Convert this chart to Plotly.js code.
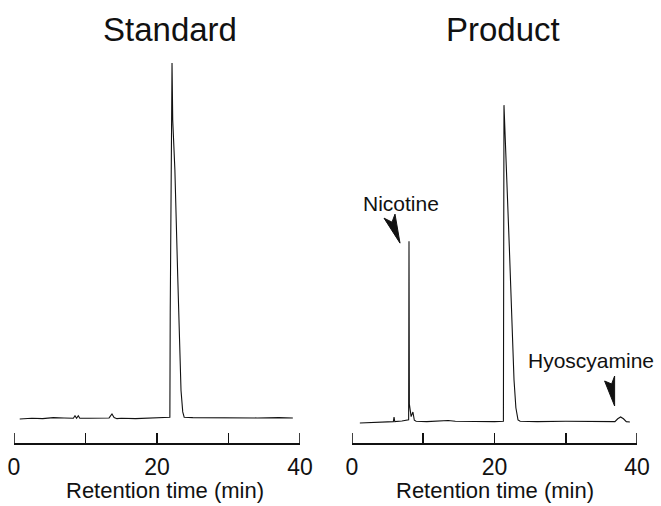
<!DOCTYPE html>
<html>
<head>
<meta charset="utf-8">
<script src="https://cdn.plot.ly/plotly-3.0.1.min.js"></script>
<style>html,body{margin:0;padding:0;background:#fff;}#chart{width:661px;height:506px;}</style>
</head>
<body>
<div id="chart"></div>
<script>
// ---- data (retention time in min, detector signal in arbitrary units) ----
const panelTitles = ["Standard", "Product"];
const axisTitle = "Retention time (min)";
const tickValues = [0, 10, 20, 30, 40];
const tickLabels = ["0", "", "20", "", "40"];

const standardTime = [0.8, 2.5, 4.0, 5.5, 7.0, 8.3, 8.53, 8.75, 8.99, 9.2, 10.5, 12.0, 13.3, 13.7, 14.0, 14.4, 15.0, 17.0, 19.0, 21.0, 21.8, 21.85, 21.96, 22.1, 22.2, 22.5, 22.9, 23.36, 23.6, 23.8, 25, 28, 31, 34, 37, 39.0];
const standardSignal = [0.0, 0.2, 0.1, 0.4, 0.3, 0.2, 0.9, 0.2, 0.9, 0.2, 0.2, 0.2, 0.3, 1.4, 0.4, 0.1, 0.2, 0.1, 0.2, 0.3, 0.5, 30, 70, 100, 84, 70, 40, 8, 2, 0.5, 0.4, 0.3, 0.4, 0.3, 0.4, 0.3];

const productTime = [1.1, 3.0, 4.5, 5.8, 5.9, 6.0, 7.0, 7.7, 7.95, 8.0, 8.05, 8.3, 8.55, 8.75, 9.0, 10.5, 12.5, 13.5, 14.5, 17, 20, 21.25, 21.3, 21.33, 22.08, 22.74, 23.0, 23.3, 23.6, 26, 30, 34, 36.9, 37.3, 37.7, 38.1, 38.5, 39.0];
const productSignal = [-0.3, -0.2, 0.0, 0.1, 1.4, 0.1, 0.3, 0.4, 0.6, 50.8, 5, 1.5, 2.8, 0.5, 0.2, 0.1, 0.2, 0.4, 0.2, 0.1, 0.1, 0.2, 45, 89, 49.2, 11.8, 4, 0.6, 0.2, 0.1, 0.2, 0.1, 0.1, 0.9, 1.4, 0.9, 0.1, 0.0];

const peakLabels = ["Nicotine", "Hyoscyamine"];
const peakTime = [8.0, 37.7];
const peakSignal = [50.8, 1.4];

// ---- layout helpers ----
const W = 661, H = 506;
const px = x => x / W;
const py = y => 1 - y / H;
const FONT = "Liberation Sans, Arial, Helvetica, sans-serif";
const INK = "#111";
const DOMAIN_TOP = 60, DOMAIN_BOTTOM = 443, TICK_LEN = 10;

const traceStyle = {mode: "lines", line: {color: INK, width: 1.1}, hoverinfo: "skip"};
const traces = [
  Object.assign({x: standardTime, y: standardSignal, xaxis: "x", yaxis: "y"}, traceStyle),
  Object.assign({x: productTime, y: productSignal, xaxis: "x2", yaxis: "y2"}, traceStyle)
];

const xBase = {
  range: [0, 40], showline: true, linecolor: INK, linewidth: 1.6,
  ticks: "inside", ticklen: TICK_LEN, tickwidth: 1.6, tickcolor: INK,
  tickvals: tickValues, ticktext: tickLabels, ticklabelstandoff: 3,
  tickfont: {family: FONT, size: 23, color: INK},
  showgrid: false, zeroline: false, fixedrange: true
};
const yDomain = [py(DOMAIN_BOTTOM), py(DOMAIN_TOP)];
const yBase = {domain: yDomain, visible: false, showgrid: false, zeroline: false, fixedrange: true};

// end ticks at the first and last tick values (Plotly hides inside ticks at the axis ends)
const endTickShapes = [];
[["x", "y"], ["x2", "y2"]].forEach(([xa, ya]) => {
  [tickValues[0], tickValues[tickValues.length - 1]].forEach(v => {
    endTickShapes.push({type: "line", xref: xa, yref: ya + " domain", x0: v, x1: v, y0: 0,
      y1: TICK_LEN / (DOMAIN_BOTTOM - DOMAIN_TOP), line: {color: INK, width: 1.6}});
  });
});

const layout = {
  width: W, height: H,
  margin: {l: 0, r: 0, t: 0, b: 0},
  paper_bgcolor: "#fff", plot_bgcolor: "rgba(0,0,0,0)",
  showlegend: false,
  xaxis: Object.assign({}, xBase, {domain: [px(14), px(300)], anchor: "y"}),
  yaxis: Object.assign({}, yBase, {range: [-6.74, 100.84], anchor: "x"}),
  xaxis2: Object.assign({}, xBase, {domain: [px(352), px(637)], anchor: "y2"}),
  yaxis2: Object.assign({}, yBase, {range: [-5.9, 101.68], anchor: "x2"}),
  annotations: [
    {text: panelTitles[0], xref: "paper", yref: "paper", x: px(170), y: py(30), xanchor: "center", yanchor: "middle", showarrow: false, font: {family: FONT, size: 33, color: INK}},
    {text: panelTitles[1], xref: "paper", yref: "paper", x: px(503), y: py(30), xanchor: "center", yanchor: "middle", showarrow: false, font: {family: FONT, size: 33, color: INK}},
    {text: axisTitle, xref: "paper", yref: "paper", x: px(165), y: py(490), xanchor: "center", yanchor: "middle", showarrow: false, font: {family: FONT, size: 22, color: INK}},
    {text: axisTitle, xref: "paper", yref: "paper", x: px(495), y: py(490), xanchor: "center", yanchor: "middle", showarrow: false, font: {family: FONT, size: 22, color: INK}},
    {text: peakLabels[0], xref: "paper", yref: "paper", x: px(401), y: py(203), xanchor: "center", yanchor: "middle", showarrow: false, font: {family: FONT, size: 21, color: INK}},
    {text: peakLabels[1], xref: "paper", yref: "paper", x: px(591), y: py(360), xanchor: "center", yanchor: "middle", showarrow: false, font: {family: FONT, size: 21, color: INK}}
  ],
  shapes: endTickShapes.concat([
    {type: "path", xref: "x2", yref: "y2", xsizemode: "pixel", ysizemode: "pixel",
     xanchor: peakTime[0], yanchor: peakSignal[0],
     path: "M -25 23 L -17 19 L -14 27 L -9 -2 Z", fillcolor: INK, line: {color: INK, width: 1}},
    {type: "path", xref: "x2", yref: "y2", xsizemode: "pixel", ysizemode: "pixel",
     xanchor: peakTime[1], yanchor: peakSignal[1],
     path: "M -16 36 L -9 33 L -6 41 L -6 11 Z", fillcolor: INK, line: {color: INK, width: 1}}
  ])
};

Plotly.newPlot("chart", traces, layout, {staticPlot: true, displayModeBar: false});
</script>
</body>
</html>
